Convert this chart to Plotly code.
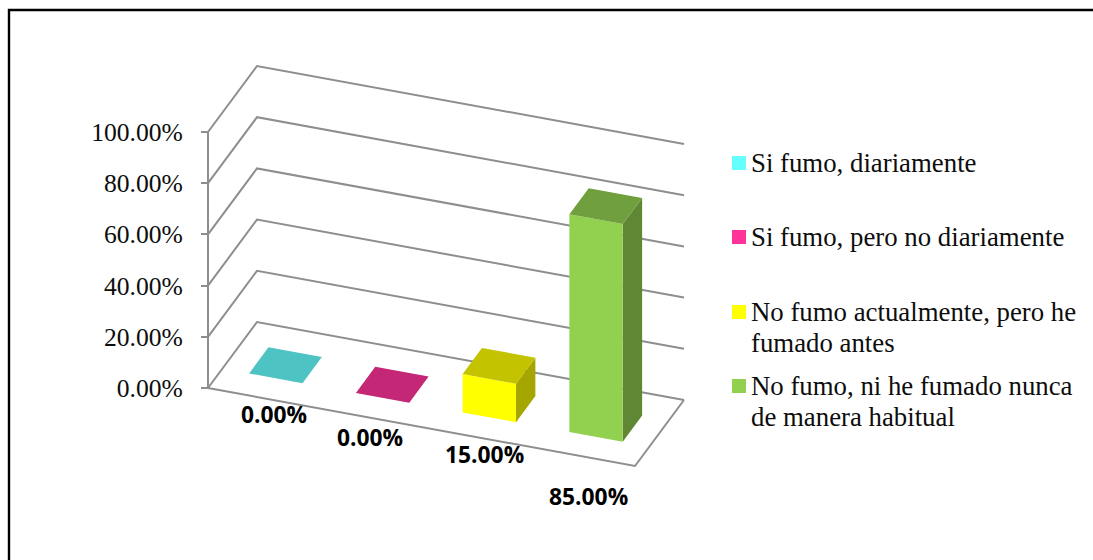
import plotly.graph_objects as go

# Survey results, in percent
categories = [
    "Si fumo, diariamente",
    "Si fumo, pero no diariamente",
    "No fumo actualmente, pero he<br>fumado antes",
    "No fumo, ni he fumado nunca<br>de manera habitual",
]
shares = [0.0, 0.0, 15.0, 85.0]
value_ticks = [0, 20, 40, 60, 80, 100]

# Base colour per category, as [r, g, b]
base_colors = [[102, 255, 255], [255, 51, 153], [255, 255, 0], [146, 208, 80]]
TOP_SHADE = 0.765
SIDE_SHADE = 0.65
GRID = "#8e8e8e"
SERIF = "Liberation Serif"

# Oblique projection: a floor position (u along the categories, d into the depth)
# and a value v map onto the x scale in pixels and the y scale in percent.
W, H = 1093, 560
ORIGIN_X, ORIGIN_Y = 208, 388
PX_PER_PCT = 2.56
STEP_X, STEP_Y = 106.75, 19.5
DEPTH_X, DEPTH_Y = 49, 66
BAR_U = 0.25
BAR_D = (0.295, 0.69)


def project(u, d, v=0.0):
    x = ORIGIN_X + u * STEP_X + d * DEPTH_X
    y = v + (d * DEPTH_Y - u * STEP_Y) / PX_PER_PCT
    return x, y


def shade(rgb, factor):
    r, g, b = (round(c * factor) for c in rgb)
    return f"rgb({r},{g},{b})"


def polyline(points, **kwargs):
    xs, ys = zip(*points)
    return go.Scatter(x=xs, y=ys, mode="lines", hoverinfo="skip", showlegend=False, **kwargs)


def face(points, color):
    closed = points + points[:1]
    return polyline(closed, fill="toself", fillcolor=color, line=dict(width=0))


fig = go.Figure()
n = len(categories)

# Side wall, back wall and floor outline
for v in value_ticks:
    fig.add_trace(polyline(
        [project(0, 0, v), project(0, 1, v), project(n, 1, v)],
        line=dict(color=GRID, width=2),
    ))
fig.add_trace(polyline([project(0, 0, 0), project(n, 0, 0), project(n, 1, 0)],
                       line=dict(color=GRID, width=2)))
fig.add_trace(polyline([project(0, 0, 0), project(0, 0, value_ticks[-1])],
                       line=dict(color=GRID, width=2)))

# Bars: right side, front, then top
d0, d1 = BAR_D
for i, (value, rgb) in enumerate(zip(shares, base_colors)):
    u0, u1 = i + BAR_U, i + 1 - BAR_U
    if value > 0:
        fig.add_trace(face([project(u1, d0, 0), project(u1, d1, 0),
                            project(u1, d1, value), project(u1, d0, value)],
                           shade(rgb, SIDE_SHADE)))
        fig.add_trace(face([project(u0, d0, 0), project(u1, d0, 0),
                            project(u1, d0, value), project(u0, d0, value)],
                           shade(rgb, 1)))
    fig.add_trace(face([project(u0, d0, value), project(u1, d0, value),
                        project(u1, d1, value), project(u0, d1, value)],
                       shade(rgb, TOP_SHADE)))

# Value labels below the floor's front edge
label_nudge = [(13, -17), (2, -20), (10, -18), (7, -40)]
annotations = []
for i, (value, (dx, dy)) in enumerate(zip(shares, label_nudge)):
    x, y = project(i + 0.5, 0, 0)
    annotations.append(dict(
        x=x, y=y, xref="x", yref="y", text=f"<b>{value:.2f}%</b>", showarrow=False,
        xshift=dx, yshift=dy, xanchor="center", yanchor="middle",
        font=dict(family="Open Sans", size=22.8, color="black"),
    ))

# Key on the right: swatch plus label, one annotation per text line
swatch_tops = [156, 230, 305, 379]
LINE_STEP = 30.5
shapes = []
for top, label, rgb in zip(swatch_tops, categories, base_colors):
    shapes.append(dict(type="rect", xref="paper", yref="paper",
                       x0=732 / W, x1=746 / W, y0=1 - top / H, y1=1 - (top + 14) / H,
                       fillcolor=shade(rgb, 1), line=dict(width=0)))
    for k, line_text in enumerate(label.split("<br>")):
        annotations.append(dict(
            x=749 / W, y=1 - (top + 7 + k * LINE_STEP) / H, xref="paper", yref="paper",
            text=line_text, showarrow=False, xanchor="left", yanchor="middle", align="left",
            font=dict(family=SERIF, size=26.8, color="#0d0d0d"),
        ))

# Outer frame: only the left and top edges fall inside the page
shapes.append(dict(type="path", xref="paper", yref="paper",
                   path=f"M {9 / W} 0 L {9 / W} {1 - 10 / H} L 1 {1 - 10 / H}",
                   line=dict(color="black", width=2.4)))

fig.update_layout(
    width=W, height=H, margin=dict(l=0, r=0, t=0, b=0),
    paper_bgcolor="white", plot_bgcolor="white", showlegend=False,
    shapes=shapes, annotations=annotations,
    xaxis=dict(range=[0, W], visible=False, domain=[0, 1], fixedrange=True),
    yaxis=dict(
        range=[(ORIGIN_Y - H) / PX_PER_PCT, ORIGIN_Y / PX_PER_PCT],
        anchor="free", position=ORIGIN_X / W, domain=[0, 1],
        tickmode="array", tickvals=value_ticks,
        ticktext=[f"{v:.2f}%" for v in value_ticks],
        ticks="outside", ticklen=7, tickwidth=2, tickcolor=GRID,
        ticklabelstandoff=13,
        tickfont=dict(family=SERIF, size=25.6, color="#0d0d0d"),
        showgrid=False, zeroline=False, showline=False, fixedrange=True,
    ),
)

fig.write_html("out.html", config=dict(displayModeBar=False))
